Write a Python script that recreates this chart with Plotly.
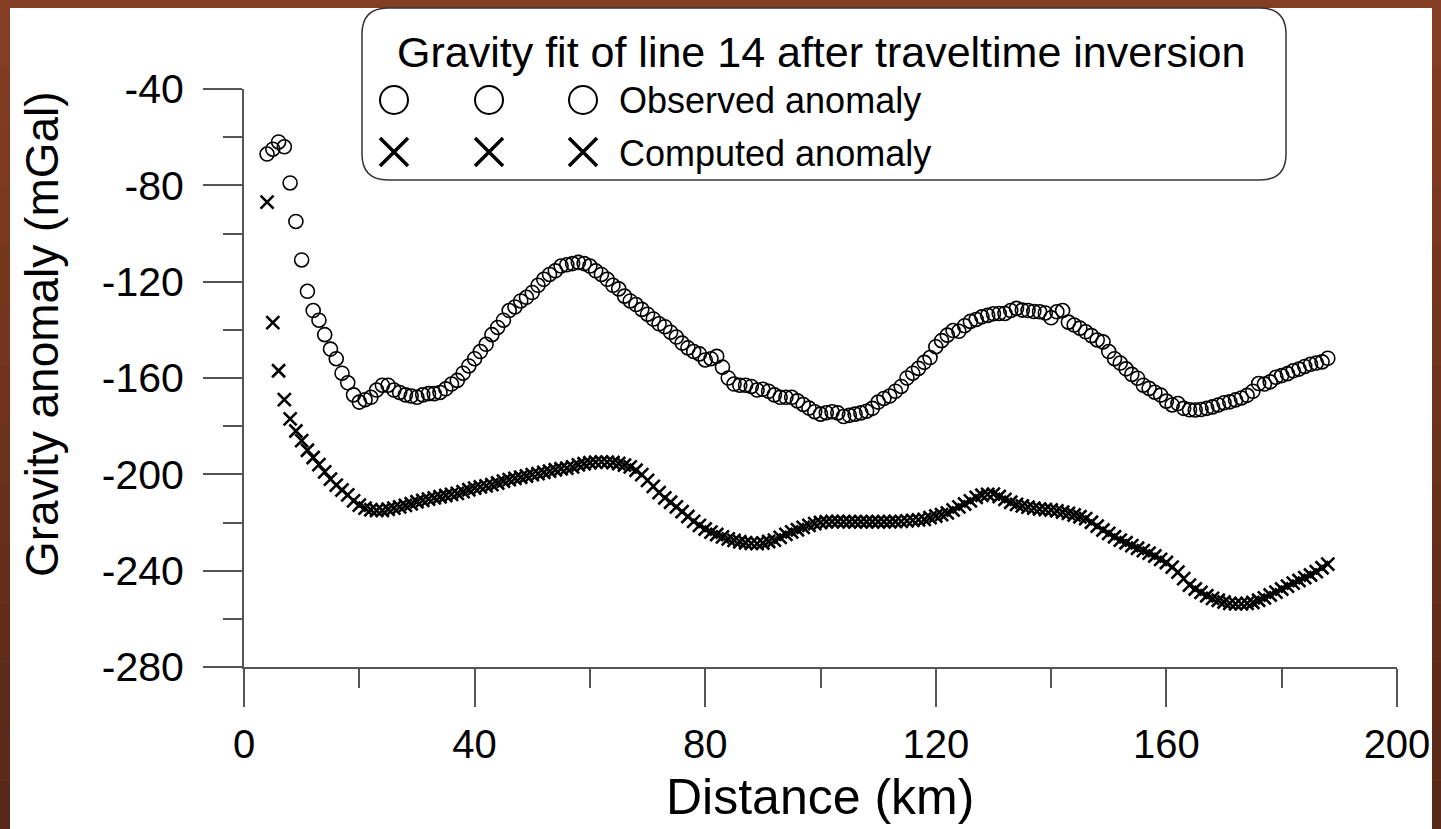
import plotly.graph_objects as go

# ---------------- data ----------------
distance_km = list(range(4, 189))

observed_mgal = [
    -67, -65, -62, -64, -79, -95, -111, -124, -132, -136,          # 4-13
    -142, -148, -152, -158, -162, -167, -170, -169, -168, -165,    # 14-23
    -163, -163, -165, -166, -167, -167.5, -168, -167, -166.5, -166.5,  # 24-33
    -166, -164.5, -162.5, -161, -158, -155, -152, -149, -146, -142,    # 34-43
    -139, -136, -132, -130.5, -128, -126.5, -124.5, -121.5, -119, -117,  # 44-53
    -115.5, -113.5, -113, -112.5, -112, -112.5, -113.5, -115.5, -117, -119,  # 54-63
    -121.5, -123, -126, -128, -129.5, -131.5, -133.5, -135.5, -137.5, -138.7,  # 64-73
    -141, -143, -145.5, -147.5, -149, -150, -152.5, -152, -151, -155.5,  # 74-83
    -160, -162.5, -163, -163, -163.5, -165, -164.7, -165.5, -167, -168,  # 84-93
    -168, -168, -169.5, -171, -172.5, -174, -175, -174.4, -174, -174.5,  # 94-103
    -176, -175.5, -175, -174.5, -173.8, -172.6, -170, -168.5, -167.5, -165.5,  # 104-113
    -163.5, -160, -158, -156, -153.5, -151.5, -147, -144.5, -142.2, -140.3,  # 114-123
    -140.6, -138.3, -136.5, -135.7, -134.6, -134, -133.3, -133.2, -133.2, -132,  # 124-133
    -131.1, -131.8, -132, -132.4, -132.5, -133, -135, -132.5, -132, -136.8,  # 134-143
    -138, -139.3, -140.8, -142.4, -144.2, -145, -149, -152, -153.8, -156.2,  # 144-153
    -158.5, -160.1, -163, -164.3, -165.9, -167.1, -169.6, -171.2, -170.6, -172.6,  # 154-163
    -173.2, -173.3, -173.1, -172.6, -172, -171.2, -170.3, -169.9, -169.1, -168.3,  # 164-173
    -167.2, -165.5, -162.3, -162.5, -161.6, -159.7, -159, -158.2, -157, -156.3,  # 174-183
    -155.2, -154.3, -153.8, -153.3, -151.8,                          # 184-188
]

computed_mgal = [
    -87, -137, -157, -169, -177, -182, -186, -190, -193, -196,      # 4-13
    -199, -202, -204.5, -206.5, -208.5, -211, -212.8, -214, -214.7, -215,  # 14-23
    -215, -214.5, -214, -213.5, -212.9, -212.2, -211.4, -210.8, -210.3, -209.8,  # 24-33
    -209.3, -208.8, -208.3, -207.9, -207.2, -206.4, -205.7, -205.2, -204.8, -204.3,  # 34-43
    -203.6, -202.8, -202.2, -201.7, -201.2, -200.7, -200.1, -199.7, -199.2, -198.7,  # 44-53
    -198.1, -197.7, -197.4, -196.9, -196.1, -195.6, -195.2, -194.9, -194.8, -194.9,  # 54-63
    -195.1, -195.5, -196.2, -196.9, -198.3, -200.1, -202.5, -205, -207.6, -209.8,  # 64-73
    -211.6, -213.5, -215.5, -217.5, -219.5, -221.2, -222.7, -224, -225, -226,  # 74-83
    -226.8, -227.4, -228, -228.4, -228.7, -228.8, -228.5, -227.9, -227.3, -226.2,  # 84-93
    -224.9, -223.9, -223, -222, -221.2, -220.5, -220, -219.7, -219.6, -219.6,  # 94-103
    -219.7, -219.7, -219.7, -219.7, -219.7, -219.7, -219.7, -219.7, -219.7, -219.6,  # 104-113
    -219.5, -219.3, -219.1, -218.9, -218.7, -218, -217.3, -216.7, -216, -214.8,  # 114-123
    -213.5, -212.3, -211, -209.6, -208.7, -208.3, -208.2, -209.2, -210.4, -211.6,  # 124-133
    -212.5, -213.1, -213.6, -214, -214.4, -214.6, -214.8, -215.2, -215.7, -216.2,  # 134-143
    -216.9, -217.6, -218.4, -219.9, -221.5, -223.1, -224.5, -225.9, -227.3, -228.4,  # 144-153
    -229.6, -230.7, -231.7, -232.7, -233.9, -235.3, -236.6, -238.5, -240.6, -243.3,  # 154-163
    -246, -247.6, -249, -250.4, -251.5, -252.3, -253, -253.6, -253.8, -253.8,  # 164-173
    -253.6, -253.2, -252.3, -251.3, -250.1, -248.9, -247.6, -246.4, -245.2, -244.1,  # 174-183
    -242.9, -241.8, -240.4, -238.8, -237.3,                          # 184-188
]

x_ticks = [0, 40, 80, 120, 160, 200]
y_ticks = [-280, -240, -200, -160, -120, -80, -40]

legend_title = "Gravity fit of line 14 after traveltime inversion"
series_names = ["Observed anomaly", "Computed anomaly"]
x_title = "Distance (km)"
y_title = "Gravity anomaly (mGal)"

# ---------------- layout geometry (pixels) ----------------
W, H = 1441, 829
L, R, T, B = 244, 1397, 89, 667          # plot area in pixels
FONT = "Arial, 'Liberation Sans', Helvetica, sans-serif"


def px(xp):
    return (xp - L) / (R - L)


def py(yp):
    return (B - yp) / (B - T)


fig = go.Figure()

fig.add_trace(go.Scatter(
    x=distance_km, y=observed_mgal, mode="markers", name=series_names[0],
    marker=dict(symbol="circle-open", size=14, color="black",
                line=dict(width=1.6, color="black")),
    showlegend=False, cliponaxis=False,
))
fig.add_trace(go.Scatter(
    x=distance_km, y=computed_mgal, mode="markers", name=series_names[1],
    marker=dict(symbol="x-thin-open", size=13, color="black",
                line=dict(width=2.6, color="black")),
    showlegend=False, cliponaxis=False,
))

# legend symbols drawn on a pixel-unit overlay axis
leg_x = [394, 489, 583]
fig.add_trace(go.Scatter(
    x=leg_x, y=[100] * 3, mode="markers", xaxis="x2", yaxis="y2",
    marker=dict(symbol="circle-open", size=28, color="black",
                line=dict(width=2, color="black")),
    showlegend=False, cliponaxis=False, hoverinfo="skip",
))
fig.add_trace(go.Scatter(
    x=leg_x, y=[152] * 3, mode="markers", xaxis="x2", yaxis="y2",
    marker=dict(symbol="x-thin-open", size=28, color="black",
                line=dict(width=3.5, color="black")),
    showlegend=False, cliponaxis=False, hoverinfo="skip",
))

axis_col = "#555555"
shapes = []
# white slide area
shapes.append(dict(type="rect", xref="paper", yref="paper", layer="below",
                   x0=px(10), x1=px(1432), y0=py(840), y1=py(8),
                   fillcolor="white", line=dict(width=0)))
# darker brown toward the bottom of side strips
n_b = 14
for i in range(n_b):
    y0p = 8 + (840 - 8) * i / n_b
    y1p = 8 + (840 - 8) * (i + 1) / n_b
    f = i / (n_b - 1)
    r = int(132 - f * 45)
    g = int(62 - f * 22)
    b = int(35 - f * 12)
    col = f"rgb({r},{g},{b})"
    for xa, xb in [(-5, 10), (1432, 1446)]:
        shapes.append(dict(type="rect", xref="paper", yref="paper", layer="below",
                           x0=px(xa), x1=px(xb), y0=py(y1p), y1=py(y0p),
                           fillcolor=col, line=dict(width=0)))

# rounded legend box
bx0, bx1, by0, by1, rad = 362, 1286, 8, 180, 26
path = (f"M {px(bx0 + rad)},{py(by0)} L {px(bx1 - rad)},{py(by0)} "
        f"Q {px(bx1)},{py(by0)} {px(bx1)},{py(by0 + rad)} "
        f"L {px(bx1)},{py(by1 - rad)} "
        f"Q {px(bx1)},{py(by1)} {px(bx1 - rad)},{py(by1)} "
        f"L {px(bx0 + rad)},{py(by1)} "
        f"Q {px(bx0)},{py(by1)} {px(bx0)},{py(by1 - rad)} "
        f"L {px(bx0)},{py(by0 + rad)} "
        f"Q {px(bx0)},{py(by0)} {px(bx0 + rad)},{py(by0)} Z")
shapes.append(dict(type="path", xref="paper", yref="paper", layer="above",
                   path=path, fillcolor="rgba(0,0,0,0)",
                   line=dict(color="#333333", width=1.5)))

annotations = [
    dict(text=legend_title, x=px(821), y=py(52), xref="paper", yref="paper",
         showarrow=False, xanchor="center", yanchor="middle",
         font=dict(family=FONT, size=43, color="black")),
    dict(text=series_names[0], x=px(617), y=py(101), xref="paper", yref="paper",
         showarrow=False, xanchor="left", yanchor="middle",
         font=dict(family=FONT, size=36, color="black")),
    dict(text=series_names[1], x=px(617), y=py(153), xref="paper", yref="paper",
         showarrow=False, xanchor="left", yanchor="middle",
         font=dict(family=FONT, size=36, color="black")),
    dict(text=x_title, x=px(820), y=py(797), xref="paper", yref="paper",
         showarrow=False, xanchor="center", yanchor="middle",
         font=dict(family=FONT, size=50, color="black")),
    dict(text=y_title, x=px(42), y=py(334), xref="paper", yref="paper",
         showarrow=False, xanchor="center", yanchor="middle", textangle=-90,
         font=dict(family=FONT, size=46, color="black")),
]

fig.update_layout(
    width=W, height=H,
    margin=dict(l=L, r=W - R, t=T, b=H - B, pad=0),
    paper_bgcolor="rgb(132,62,35)",
    plot_bgcolor="white",
    showlegend=False,
    shapes=shapes,
    annotations=annotations,
    xaxis=dict(
        range=[0, 200], tickvals=x_ticks, ticktext=[str(v) for v in x_ticks],
        ticks="outside", ticklen=38, tickwidth=2, tickcolor=axis_col,
        showline=True, linecolor=axis_col, linewidth=2,
        showgrid=False, zeroline=False,
        minor=dict(dtick=20, tick0=0, ticks="outside", ticklen=19,
                   tickwidth=2, tickcolor=axis_col, showgrid=False),
        tickfont=dict(family=FONT, size=40, color="black"),
        ticklabelstandoff=3,
    ),
    yaxis=dict(
        range=[-280, -40], tickvals=y_ticks, ticktext=[str(v) for v in y_ticks],
        ticks="outside", ticklen=39, tickwidth=2, tickcolor=axis_col,
        showline=True, linecolor=axis_col, linewidth=2,
        showgrid=False, zeroline=False,
        minor=dict(dtick=20, tick0=0, ticks="outside", ticklen=19,
                   tickwidth=2, tickcolor=axis_col, showgrid=False),
        tickfont=dict(family=FONT, size=41, color="black"),
        ticklabelstandoff=11,
    ),
    xaxis2=dict(overlaying="x", range=[L, R], visible=False, fixedrange=True),
    yaxis2=dict(overlaying="y", range=[B, T], visible=False, fixedrange=True),
)

fig.write_html("out.html")
